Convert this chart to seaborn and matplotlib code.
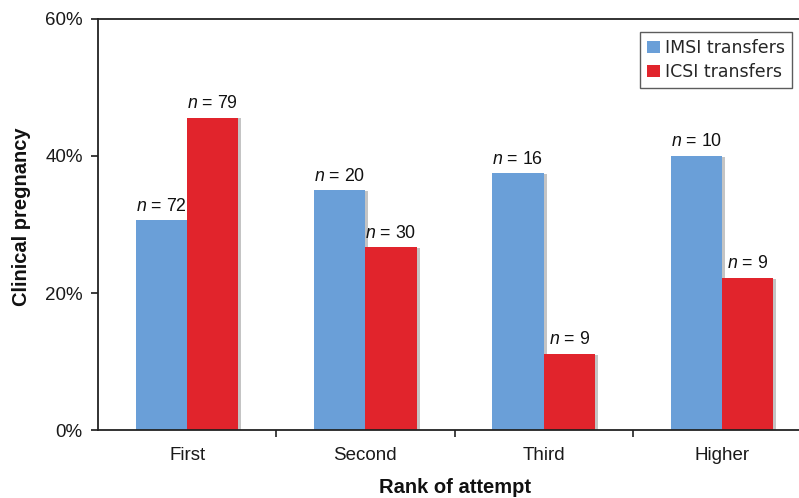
import matplotlib
matplotlib.use("Agg")
import matplotlib.pyplot as plt
import matplotlib.patheffects as pe
from matplotlib.ticker import PercentFormatter, FixedLocator
import pandas as pd
import seaborn as sns

# Clinical pregnancy rate (%) by rank of attempt
attempts = ["First", "Second", "Third", "Higher"]
imsi_rate = [30.6, 35.0, 37.5, 40.0]
icsi_rate = [45.6, 26.7, 11.1, 22.2]
imsi_n = [72, 20, 16, 10]
icsi_n = [79, 30, 9, 9]
groups = ["IMSI transfers", "ICSI transfers"]
y_ticks = [0, 20, 40, 60]

df = pd.DataFrame({
    "attempt": attempts * 2,
    "rate": imsi_rate + icsi_rate,
    "group": [groups[0]] * len(attempts) + [groups[1]] * len(attempts),
})

sns.set_style("white")
plt.rcParams["font.family"] = ["Liberation Sans", "DejaVu Sans"]
plt.rcParams["mathtext.fontset"] = "custom"
plt.rcParams["mathtext.it"] = "Liberation Sans:italic"
plt.rcParams["mathtext.rm"] = "Liberation Sans"

fig = plt.figure(figsize=(7.99, 4.98), dpi=100)
ax = fig.add_axes([98 / 799, 68 / 498, 713 / 799, 411 / 498])

palette = {groups[0]: "#6a9fd8", groups[1]: "#e1242c"}
sns.barplot(data=df, x="attempt", y="rate", hue="group", order=attempts,
            hue_order=groups, palette=palette, width=0.574, saturation=1,
            ax=ax, legend=True)

shadow = [pe.SimplePatchShadow(offset=(2.2, -0.5), shadow_rgbFace="#8a8a8a", alpha=0.5),
          pe.Normal()]
for patch in ax.patches:
    patch.set_linewidth(0)
    patch.set_path_effects(shadow)

for container, counts in zip(ax.containers, [imsi_n, icsi_n]):
    ax.bar_label(container, labels=[f"$n$ = {c}" for c in counts],
                 padding=4, fontsize=12.8, color="#111111")

ax.set_xlim(-0.5, len(attempts) - 0.5)
ax.set_ylim(0, 60)
ax.yaxis.set_major_locator(FixedLocator(y_ticks))
ax.yaxis.set_major_formatter(PercentFormatter(decimals=0))

# category boundaries carry the ticks, labels sit at category centres
ax.xaxis.set_major_locator(FixedLocator([0.5, 1.5, 2.5]))
ax.xaxis.set_major_formatter(plt.NullFormatter())
ax.xaxis.set_minor_locator(FixedLocator(range(len(attempts))))
ax.set_xticks(range(len(attempts)), attempts, minor=True)
ax.tick_params(axis="x", which="minor", length=0, pad=12, labelsize=13.5, colors="#1a1a1a")
ax.tick_params(axis="x", which="major", length=5, width=1.2, direction="out", color="#222222")
ax.tick_params(axis="y", length=5, width=1.2, direction="out", pad=6,
               labelsize=13.5, colors="#1a1a1a")
ax.tick_params(axis="both", which="both", bottom=True, left=True)

for side in ["left", "bottom", "top"]:
    ax.spines[side].set_visible(True)
    ax.spines[side].set_color("#222222")
    ax.spines[side].set_linewidth(1.3)
ax.spines["right"].set_visible(False)

ax.set_xlabel("Rank of attempt", fontsize=14.5, fontweight="bold", color="#111111")
ax.set_ylabel("Clinical pregnancy", fontsize=14.5, fontweight="bold", color="#111111")
ax.xaxis.set_label_coords(0.5, -0.118)
ax.yaxis.set_label_coords(-0.094, 0.52)

leg = ax.legend(loc="upper right", bbox_to_anchor=(792 / 799, 1 - 32 / 498),
                bbox_transform=fig.transFigure, frameon=True, fancybox=False,
                prop={"family": "DejaVu Sans", "size": 12.5},
                handlelength=0.75, handleheight=0.75, handletextpad=0.3,
                borderpad=0.4, labelspacing=0.35, borderaxespad=0)
leg.get_frame().set_edgecolor("#333333")
leg.get_frame().set_linewidth(1.0)
for h in leg.legend_handles:
    h.set_path_effects([])

fig.savefig("out.png", dpi=100)
